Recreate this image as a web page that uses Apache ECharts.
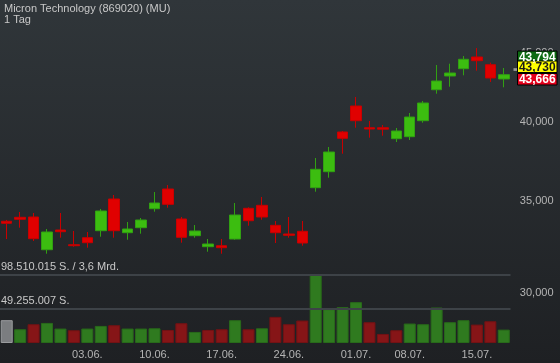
<!DOCTYPE html>
<html>
<head>
<meta charset="utf-8">
<script src="https://cdn.jsdelivr.net/npm/echarts@6/dist/echarts.min.js"></script>
<style>
html,body{margin:0;padding:0;background:#25292d;}
#c{width:560px;height:363px;}
</style>
</head>
<body>
<div id="c"></div>
<script>
const categories = ['24.05.','27.05.','28.05.','29.05.','30.05.','31.05.','03.06.','04.06.','05.06.','06.06.','07.06.','10.06.','11.06.','12.06.','13.06.','14.06.','17.06.','18.06.','19.06.','20.06.','21.06.','24.06.','25.06.','26.06.','27.06.','28.06.','01.07.','02.07.','03.07.','05.07.','08.07.','09.07.','10.07.','11.07.','12.07.','15.07.','16.07.','17.07.'];
const tickLabels = ['03.06.','10.06.','17.06.','24.06.','01.07.','08.07.','15.07.'];
const opens  = [33845,34073,34090,32259,33350,32533,32920,33311,35142,33199,33480,34571,35740,33975,33031,32423,32478,32847,34594,34769,33615,33126,33277,35819,36800,39351,41117,39637,39637,38908,39040,40109,42263,43253,43789,44663,44085,43036];
const closes = [33730,33958,32864,33238,33255,32478,32643,34437,33311,33406,33918,34905,34828,32942,33294,32571,32369,34205,33878,34090,33199,33053,32626,36949,38044,38933,40109,39550,39540,39417,40358,41326,42889,43473,44490,44385,43108,43348];
const lows   = [32845,33480,32737,32042,32920,32423,32369,32975,32920,32809,33143,34396,34629,32643,32920,32151,32042,32809,33593,33935,32626,32920,32478,35577,36429,37935,39637,38974,39106,38692,38822,39973,41979,42478,43304,43642,42817,42435];
const highs  = [33920,34379,34321,33406,34321,33294,33238,34553,35380,33804,34033,35559,35982,34090,33632,32847,32847,34905,34652,35261,33861,34090,33861,37661,38366,39417,41746,40088,39818,39617,40634,41465,44063,44160,44738,45345,44235,43841];
const volumes = [32700000,19700000,26900000,28800000,20700000,18300000,20700000,24500000,25500000,20700000,20700000,21100000,18700000,28400000,15900000,18700000,19700000,32700000,19700000,21100000,37500000,26900000,32200000,98500000,48500000,51400000,58600000,29800000,13000000,18300000,27900000,26900000,50900000,29800000,32700000,26400000,31200000,19200000];
const priceTicks = [30000,35000,40000,45000];
const volTicks = [49255007, 98510015];
const volTickLabels = ['49.255.007 S.', '98.510.015 S. / 3,6 Mrd.'];
const quoteValues = [43794, 43730, 43666];
const quoteLabels = ['43,794', '43,730', '43,666'];
const titleText = 'Micron Technology (869020) (MU)';
const subText = '1 Tag';

const FONT = 'Liberation Sans, Arial, sans-serif';
const fmt = v => String(Math.round(v)).replace(/\B(?=(\d{3})+(?!\d))/g, ',');

const ohlc = categories.map((c, i) => [opens[i], closes[i], lows[i], highs[i]]);
const volData = volumes.map((v, i) => {
  let col = '#7b7d80', bc = '#9a9c9e';
  if (i > 0) {
    if (closes[i] >= closes[i-1]) { col = '#2f7a1f'; bc = '#286a1a'; }
    else { col = '#861517'; bc = '#721214'; }
  }
  return { value: v, itemStyle: { color: col, borderColor: bc, borderWidth: 1 } };
});

const chart = echarts.init(document.getElementById('c'));
const option = {
  animation: false,
  backgroundColor: {
    type: 'linear', x: 0, y: 0, x2: 0, y2: 1,
    colorStops: [{ offset: 0, color: '#30363a' }, { offset: 1, color: '#1e2023' }]
  },
  title: {
    text: titleText, subtext: subText, left: 2, top: 1, itemGap: 0,
    textStyle: { color: '#c8c8c8', fontSize: 11, fontWeight: 'normal', fontFamily: FONT },
    subtextStyle: { color: '#c8c8c8', fontSize: 11, fontFamily: FONT },
    padding: [2, 2]
  },
  grid: [
    { left: 0, right: 49.5, top: 40, bottom: 20 },
    { left: 0, right: 49.5, top: 274.3, bottom: 20 }
  ],
  xAxis: [
    { type: 'category', data: categories, gridIndex: 0, boundaryGap: true,
      axisLine: { show: false }, axisTick: { show: false }, axisLabel: { show: false }, splitLine: { show: false } },
    { type: 'category', data: categories, gridIndex: 1, boundaryGap: true,
      axisLine: { show: false }, axisTick: { show: false }, splitLine: { show: false },
      axisLabel: {
        color: '#b4b4b4', fontSize: 11, fontFamily: FONT, margin: 6,
        interval: (idx, val) => tickLabels.indexOf(val) >= 0
      } }
  ],
  yAxis: [
    { type: 'log', gridIndex: 0, position: 'right', min: 27558, max: 45963,
      axisLine: { show: false }, axisTick: { show: false }, splitLine: { show: false },
      axisLabel: { customValues: priceTicks, formatter: v => fmt(v), color: '#b4b4b4', fontSize: 11,
        fontFamily: FONT, align: 'right', margin: 43 } },
    { type: 'value', gridIndex: 1, min: 0, max: volTicks[1], show: false, splitLine: { show: false } }
  ],
  series: [
    { type: 'bar', xAxisIndex: 1, yAxisIndex: 1, data: volData, barWidth: 12, z: 1,
      markLine: {
        silent: true, symbol: 'none', animation: false,
        lineStyle: { color: '#3d4247', width: 2, type: 'solid' },
        label: { show: true, position: 'insideStartTop', distance: [1, 2], color: '#c8c8c8', fontSize: 11, fontFamily: FONT,
          formatter: p => volTickLabels[volTicks.indexOf(p.value)] },
        data: volTicks.map(v => ({ yAxis: v }))
      } },
    { type: 'candlestick', xAxisIndex: 0, yAxisIndex: 0, data: ohlc, barWidth: 11, z: 3,
      itemStyle: { color: '#3cbd10', color0: '#e00000', borderColor: '#31a012', borderColor0: '#c80000', borderWidth: 1 } }
  ]
};
chart.setOption(option);

const py = chart.convertToPixel({ yAxisIndex: 0 }, quoteValues[1]);
const bx = 517.5, bw = 39.5, bh = 11.5;
const boxFill = ['#0d6b12', '#ffff00', '#e3001b'];
const boxText = ['#ffffff', '#1a1a1a', '#ffffff'];
const tops = [py - 18.5, py - 8.5, py + 4];
const gfx = [{ type: 'rect', shape: { x: bx - 4, y: py - 1.3, width: 4, height: 2.7 }, style: { fill: '#9a9a9a' }, z: 100 }];
quoteLabels.forEach((t, i) => {
  gfx.push({ type: 'rect', shape: { x: bx, y: tops[i], width: bw, height: bh }, style: { fill: boxFill[i], stroke: '#000', lineWidth: 1 }, z: 100 });
  gfx.push({ type: 'text', x: bx + bw / 2, y: tops[i] + bh / 2 + 0.5, style: { text: t, fill: boxText[i], font: 'bold 12px ' + FONT, textAlign: 'center', textVerticalAlign: 'middle' }, z: 101 });
});
chart.setOption({ graphic: gfx });
</script>
</body>
</html>
